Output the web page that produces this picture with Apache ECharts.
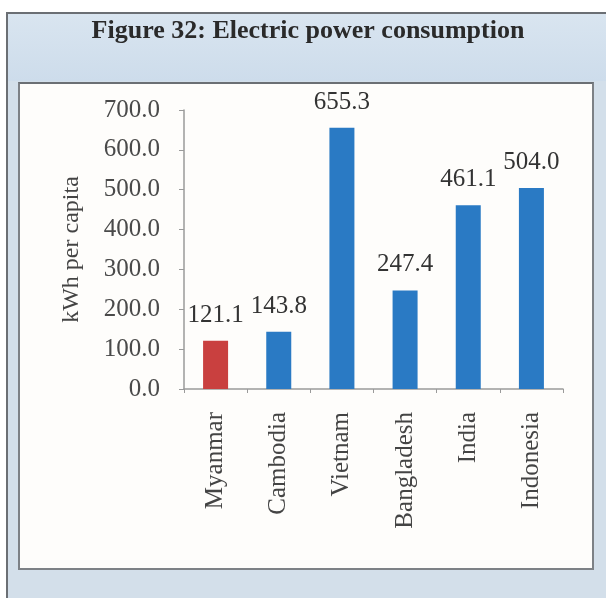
<!DOCTYPE html>
<html>
<head>
<meta charset="utf-8">
<script src="https://cdn.jsdelivr.net/npm/echarts@6/dist/echarts.min.js"></script>
<style>
html,body{margin:0;padding:0;width:606px;height:598px;overflow:hidden;background:#fff;}
#frame{position:absolute;left:6px;top:12px;width:606px;height:590px;background:#d3dfea;border-left:2px solid #6b6f74;border-top:2px solid #6b6f74;}
#titlebar{position:absolute;left:8px;top:14px;width:600px;height:67px;background:linear-gradient(#d9e5f0,#cddceb);}
#panel{position:absolute;left:18px;top:82px;width:572px;height:484px;background:#fefdfb;border:2px solid #7d8186;border-top:2px solid #6b6f74;}
#chart{position:absolute;left:0;top:0;width:606px;height:598px;}
</style>
</head>
<body>
<div id="frame"></div>
<div id="titlebar"></div>
<div id="panel"></div>
<div id="chart"></div>
<script>
const categories = ['Myanmar','Cambodia','Vietnam','Bangladesh','India','Indonesia'];
const values = [121.1, 143.8, 655.3, 247.4, 461.1, 504.0];
const barColors = ['#c9403f','#2a7ac4','#2a7ac4','#2a7ac4','#2a7ac4','#2a7ac4'];
const yTicks = [0,100,200,300,400,500,600,700];

const serif = '"Liberation Serif", "DejaVu Serif", serif';
const chart = echarts.init(document.getElementById('chart'), null, {renderer:'canvas'});
chart.setOption({
  backgroundColor: 'transparent',
  animation: false,
  title: {
    text: 'Figure 32: Electric power consumption',
    left: 303, top: 13, textAlign: 'center',
    textStyle: {fontFamily: serif, fontWeight: 'bold', fontSize: 26, color: '#2a2a2a'}
  },
  grid: {left: 184, right: 43, top: 110, bottom: 209},
  xAxis: {
    type: 'category',
    data: categories,
    axisLine: {lineStyle: {color: '#9a9a9a', width: 1.5}},
    axisTick: {show: true, length: 4, lineStyle: {color: '#9a9a9a'}},
    axisLabel: {rotate: 90, margin: 23, fontFamily: serif, fontSize: 25, color: '#444'}
  },
  yAxis: {
    type: 'value',
    min: yTicks[0], max: yTicks[yTicks.length-1], interval: 100,
    name: 'kWh per capita',
    nameLocation: 'middle',
    nameGap: 100,
    nameTextStyle: {fontFamily: serif, fontSize: 24, color: '#444'},
    splitLine: {show: false},
    axisLine: {show: true, lineStyle: {color: '#9a9a9a', width: 1.5}},
    axisTick: {show: true, length: 5, lineStyle: {color: '#9a9a9a'}},
    axisLabel: {margin: 24, fontFamily: serif, fontSize: 25, color: '#4a4a4a',
      formatter: v => v.toFixed(1)}
  },
  series: [{
    type: 'bar',
    data: values.map((v,i) => ({value: v, itemStyle: {color: barColors[i]}})),
    barWidth: 25,
    label: {show: true, position: 'top', distance: 13, fontFamily: serif, fontSize: 25, color: '#333',
      formatter: p => p.value.toFixed(1)}
  }]
});
</script>
</body>
</html>
